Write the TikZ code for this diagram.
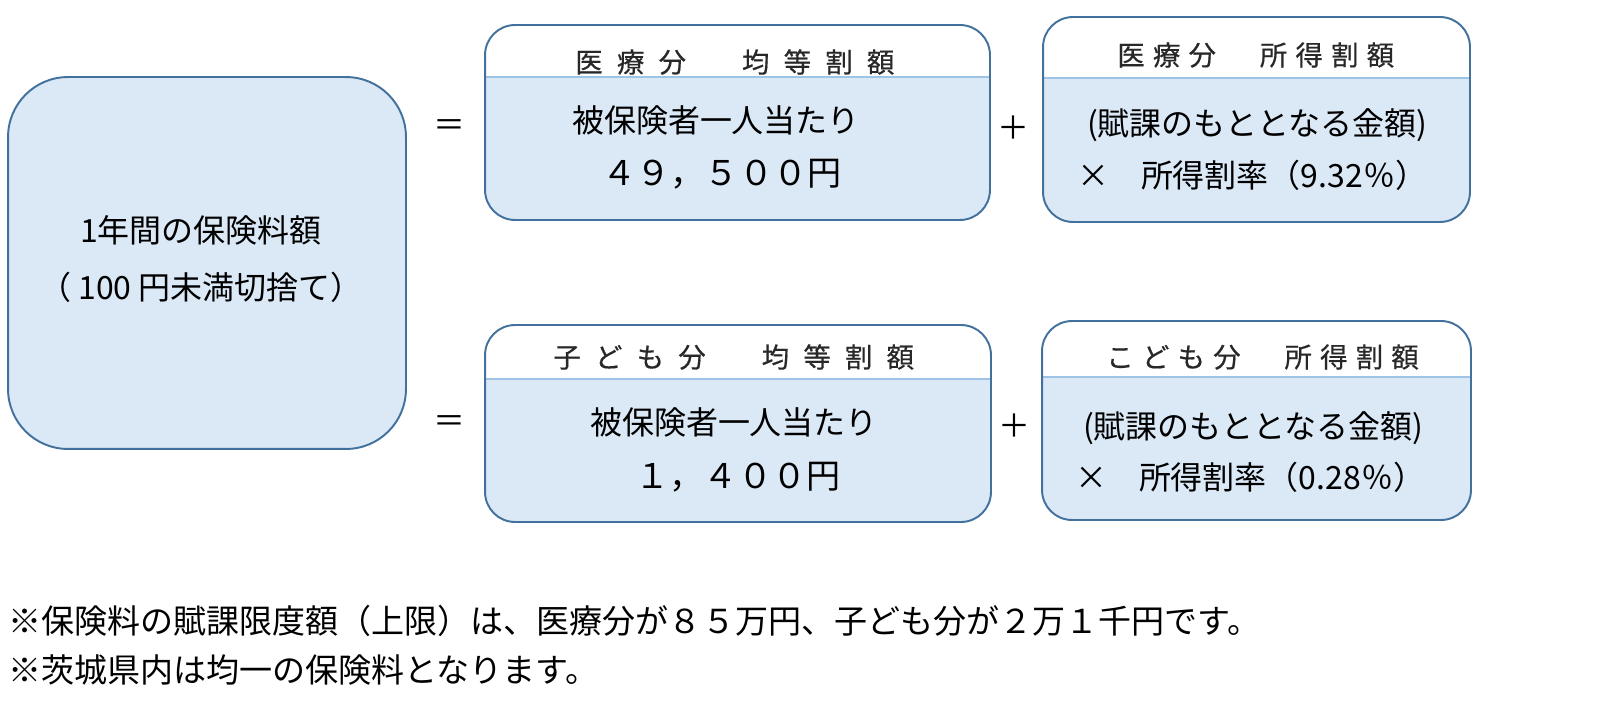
\documentclass[tikz,border=0pt]{standalone}
\usepackage{fontspec}
\setmainfont{Noto Sans CJK JP}
\usepackage{tikz}
\usetikzlibrary{positioning}
\definecolor{cardblue}{RGB}{65,113,156}
\definecolor{cardfill}{RGB}{219,232,246}
\definecolor{sepblue}{RGB}{157,195,230}
\definecolor{hdrgray}{RGB}{40,40,40}

\begin{document}
\begin{tikzpicture}[
    x=0.02cm, y=-0.02cm,
    card/.style={
      draw=cardblue, line width=1.1pt, rounded corners=0.6cm, fill=white,
      inner sep=0pt,
      path picture={
        \fill[cardfill, sharp corners]
          ([yshift=-#1]path picture bounding box.north west)
          rectangle (path picture bounding box.south east);
        \draw[sepblue, line width=1pt, sharp corners]
          ([yshift=-#1]path picture bounding box.north west)
          -- ([yshift=-#1]path picture bounding box.north east);
      }
    },
    bigcard/.style={
      draw=cardblue, line width=1.1pt, rounded corners=1.2cm, fill=cardfill,
      inner sep=0pt, minimum width=7.96cm, minimum height=7.44cm
    },
    hdr/.style={
      font=\fontsize{15.6}{18}\selectfont\addfontfeatures{LetterSpace=#1,FakeBold=0.5},
      text=hdrgray, anchor=west, inner sep=0pt
    },
    body/.style={font=\fontsize{18.2}{22}\selectfont, inner sep=0pt},
    num/.style={font=\fontsize{19.4}{23}\selectfont, inner sep=0pt},
    op/.style={font=\fontsize{18.2}{22}\selectfont, inner sep=0pt},
    note/.style={font=\fontsize{18.8}{22}\selectfont, anchor=west, inner sep=0pt},
  ]
    \useasboundingbox[fill=white] (0,0) rectangle (1601,702);

    % left: yearly total
    \node[bigcard] (total) at (207,263) {};
    \node[body] (totala) at (201,230) {1年間の保険料額};
    \node[body] (totalb) at (201,287) {（ 100 円未満切捨て）};

    % medical part
    \node[op] (eqa) at (449,128) {＝};
    \node[card=1.04cm, minimum width=10.1cm, minimum height=3.9cm] (medflat) at (737.5,122.5) {};
    \node[hdr=52] (medflathd) at (575,62) {医療分　均等割額};
    \node[body] (medflata) at (716,120) {被保険者一人当たり};
    \node[num] (medflatb) at (722,174) {４９，５００円};
    \node[op] (plusa) at (1013,128) {＋};
    \node[card=1.22cm, minimum width=8.54cm, minimum height=4.1cm] (medinc) at (1256.5,119.5) {};
    \node[hdr=30] (medinchd) at (1117,55) {医療分　所得割額};
    \node[body] (medinca) at (1257,125) {(賦課のもととなる金額)};
    \node[body] (medincb) at (1252,175) {×　所得割率（9.32％）};

    % children part
    \node[op] (eqb) at (449,424) {＝};
    \node[card=1.08cm, minimum width=10.12cm, minimum height=3.94cm] (kidflat) at (738,423.5) {};
    \node[hdr=52] (kidflathd) at (553,357) {子ども分　均等割額};
    \node[body] (kidflata) at (734,422) {被保険者一人当たり};
    \node[num] (kidflatb) at (738,477) {１，４００円};
    \node[op] (plusb) at (1014,426) {＋};
    \node[card=1.12cm, minimum width=8.58cm, minimum height=3.98cm] (kidinc) at (1256.5,420.5) {};
    \node[hdr=30] (kidinchd) at (1106,357) {こども分　所得割額};
    \node[body] (kidinca) at (1253,428) {(賦課のもととなる金額)};
    \node[body] (kidincb) at (1250,477) {×　所得割率（0.28％）};

    % notes
    \node[note] (notea) at (8,621) {※保険料の賦課限度額（上限）は、医療分が８５万円、子ども分が２万１千円です。};
    \node[note] (noteb) at (8,670) {※茨城県内は均一の保険料となります。};
  \end{tikzpicture}
\end{document}
